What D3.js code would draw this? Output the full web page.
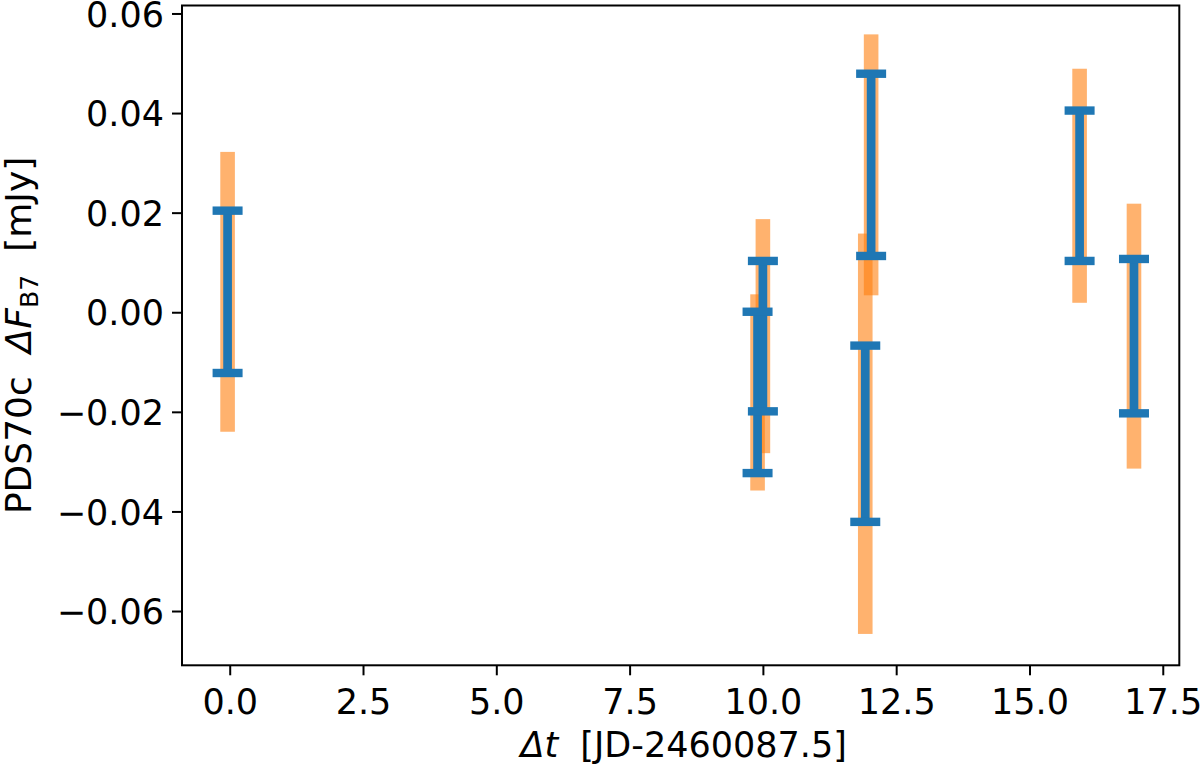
<!DOCTYPE html>
<html>
<head>
<meta charset="utf-8">
<script src="https://cdn.jsdelivr.net/npm/d3@7"></script>
<style>
  html, body { margin: 0; padding: 0; background: #ffffff; }
  svg { display: block; }
  text { font-family: "DejaVu Sans", sans-serif; fill: #000; white-space: pre; }
</style>
</head>
<body>
<svg id="chart" width="1200" height="769"></svg>
<script>
// ---- data ----
const times   = [-0.04, 9.90, 10.00, 11.92, 12.03, 15.94, 16.96];   // Δt [JD-2460087.5]
const fluxes  = [0.0041, -0.0161, -0.0048, -0.0244, 0.0296, 0.0254, -0.0048]; // ΔF_B7 [mJy]
const errStat = [0.0163, 0.0162, 0.0151, 0.0177, 0.0183, 0.0151, 0.0155];   // blue error bars
const errTot  = [0.0281, 0.0197, 0.0235, 0.0402, 0.0262, 0.0235, 0.0266];   // orange error bars
const xTicks  = [0, 2.5, 5, 7.5, 10, 12.5, 15, 17.5];
const yTicks  = [-0.06, -0.04, -0.02, 0.00, 0.02, 0.04, 0.06];

const points = times.map((t, i) => ({t, f: fluxes[i], e1: errStat[i], e2: errTot[i]}));

// ---- layout ----
const pL = 182, pR = 1179.3, pT = 5.5, pB = 665.3;
const x = d3.scaleLinear().domain([-0.895, 17.81]).range([pL, pR]);
const y = d3.scaleLinear().domain([-0.0709, 0.0616]).range([pB, pT]);

const svg = d3.select("#chart");
svg.append("rect").attr("width", 1200).attr("height", 769).attr("fill", "#fff");

const FS = 35;

// orange (total) error bars
const orangeW = 14.6;
svg.append("g").selectAll("rect").data(points).join("rect")
  .attr("x", d => x(d.t) - orangeW / 2)
  .attr("y", d => y(d.f + d.e2))
  .attr("width", orangeW)
  .attr("height", d => y(d.f - d.e2) - y(d.f + d.e2))
  .attr("fill", "#ff7f0e")
  .attr("fill-opacity", 0.6);

// blue (statistical) error bars with caps
const blue = "#1f77b4";
const gB = svg.append("g");
gB.selectAll("line.v").data(points).join("line")
  .attr("class", "v")
  .attr("x1", d => x(d.t)).attr("x2", d => x(d.t))
  .attr("y1", d => y(d.f + d.e1)).attr("y2", d => y(d.f - d.e1))
  .attr("stroke", blue).attr("stroke-width", 8.7);
const capW = 30, capH = 8.4;
const caps = [];
points.forEach(d => { caps.push({t: d.t, v: d.f + d.e1}); caps.push({t: d.t, v: d.f - d.e1}); });
gB.selectAll("rect.cap").data(caps).join("rect")
  .attr("class", "cap")
  .attr("x", d => x(d.t) - capW / 2)
  .attr("y", d => y(d.v) - capH / 2)
  .attr("width", capW).attr("height", capH)
  .attr("fill", blue);

// axes
const xAxis = svg.append("g").attr("transform", `translate(0,${pB})`)
  .call(d3.axisBottom(x).tickValues(xTicks).tickFormat(d3.format(".1f")).tickSize(10).tickPadding(8));
const yAxis = svg.append("g").attr("transform", `translate(${pL},0)`)
  .call(d3.axisLeft(y).tickValues(yTicks).tickFormat(d3.format(".2f")).tickSize(10).tickPadding(8));
[xAxis, yAxis].forEach(g => {
  g.select(".domain").remove();
  g.selectAll(".tick line").attr("stroke", "#000").attr("stroke-width", 2);
  g.selectAll(".tick text").attr("font-size", FS).attr("font-family", "DejaVu Sans").attr("fill", "#000");
});
xAxis.selectAll(".tick text").attr("dy", null).attr("y", 48.5);
yAxis.selectAll(".tick text").attr("dy", "0.36em");

// frame
svg.append("rect")
  .attr("x", pL).attr("y", pT)
  .attr("width", pR - pL).attr("height", pB - pT)
  .attr("fill", "none").attr("stroke", "#000").attr("stroke-width", 2);

// x label
const xl = svg.append("text")
  .attr("x", (pL + pR) / 2 + 3).attr("y", 757)
  .attr("text-anchor", "middle").attr("font-size", FS);
xl.append("tspan").attr("font-style", "italic").text("\u0394t");
xl.append("tspan").text("  [JD-2460087.5]");

// y label
const FSY = 36;
const yl = svg.append("text")
  .attr("transform", `translate(31,${(pT + pB) / 2}) rotate(-90)`)
  .attr("text-anchor", "middle").attr("font-size", FSY);
yl.append("tspan").text("PDS70c  ");
yl.append("tspan").attr("font-style", "italic").text("\u0394F");
yl.append("tspan").attr("font-size", FSY * 0.7).attr("dy", 7).text("B7");
yl.append("tspan").attr("dy", -7).text("  [mJy]");
</script>
</body>
</html>
